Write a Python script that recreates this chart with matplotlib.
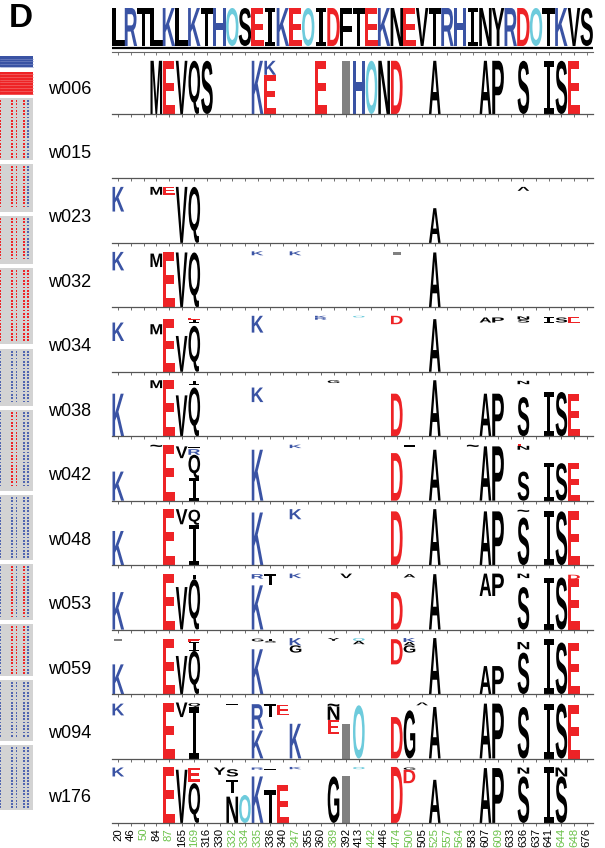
import matplotlib
matplotlib.use('Agg')
import matplotlib.pyplot as plt
from matplotlib.textpath import TextPath
from matplotlib.font_manager import FontProperties
from matplotlib.patches import PathPatch, Rectangle, Polygon
from matplotlib.transforms import Affine2D

# ---------------- data ----------------
positions = ['20', '46', '50', '84', '87', '165', '169', '316', '330', '332', '334', '335',
             '336', '340', '347', '355', '360', '389', '392', '413', '442', '446', '474',
             '500', '505', '525', '557', '564', '583', '607', '609', '633', '636', '637',
             '641', '644', '648', '676']
green_positions = ['50', '87', '169', '332', '334', '335', '347', '389', '442', '474', '500',
                   '525', '557', '564', '609', '644', '648']
reference = "LRTLKLKTHOSEIKEOIDFTEKNEVTRHINYRDOTKVS"
samples = ['w006', 'w015', 'w023', 'w032', 'w034', 'w038', 'w042', 'w048', 'w053',
           'w059', 'w094', 'w176']

# stacks: position index -> list of (letter, height) from bottom ; ' ' = empty space, '-' = gap
logo_w006 = {3: [('M', .95)], 4: [('E', .95)], 5: [('V', .95)], 6: [('Q', .95)], 7: [('S', .95)],
             11: [('K', .95)], 12: [('E', .7), ('K', .25)], 16: [('E', .95)], 18: [('-', .95)],
             19: [('H', .95)], 20: [('O', .95)], 21: [('N', .95)], 22: [('D', .95)],
             25: [('A', .95)], 29: [('A', .95)], 30: [('P', .95)], 32: [('S', .95)],
             34: [('I', .95)], 35: [('S', .95)], 36: [('E', .95)]}
logo_w015 = {}
logo_w023 = {0: [(' ', .56), ('K', .44)], 3: [(' ', .86), ('M', .14)], 4: [(' ', .86), ('E', .14)],
             5: [('V', 1.0)], 6: [('Q', 1.0)], 25: [('A', .62)], 32: [(' ', .93), ('^', .07)]}
logo_w032 = {0: [(' ', .66), ('K', .33)], 3: [(' ', .72), ('M', .24)], 4: [('E', .98)],
             5: [('V', .98)], 6: [('Q', .98)], 11: [(' ', .93), ('K', .07)],
             14: [(' ', .93), ('K', .07)], 22: [(' ', .93), ('-', .05)], 25: [('A', .98)]}
logo_w034 = {0: [(' ', .55), ('K', .33)], 3: [(' ', .67), ('M', .18)], 4: [('E', .94)],
             5: [('V', .64)], 6: [('Q', .82), (' ', .06), ('I', .05), ('E', .03)],
             11: [(' ', .7), ('K', .3)], 16: [(' ', .93), ('R', .04), ('K', .03)],
             19: [(' ', .97), ('O', .03)], 22: [(' ', .85), ('D', .15)],
             25: [('A', .94)], 29: [(' ', .88), ('A', .09)], 30: [(' ', .88), ('P', .09)],
             32: [(' ', .88), ('S', .06), ('N', .05)], 34: [(' ', .88), ('I', .09)],
             35: [(' ', .88), ('S', .09)], 36: [(' ', .88), ('E', .09)]}
logo_w038 = {0: [('K', .76)], 3: [(' ', .86), ('M', .14)], 4: [('E', 1.0)], 5: [('V', .73)],
             6: [('Q', .87), (' ', .05), ('I', .07)], 11: [(' ', .61), ('K', .26)],
             17: [(' ', .95), ('G', .05)], 22: [('D', .76)], 25: [('A', 1.0)],
             29: [('A', .76)], 30: [('P', .76)], 32: [('S', .7), (' ', .23), ('N', .06)],
             34: [('I', .79)], 35: [('S', .79)], 36: [('E', .76)]}
logo_w042 = {0: [('K', .52)], 3: [(' ', .96), ('~', .04)], 4: [('E', 1.0)],
             5: [(' ', .76), ('V', .21)], 6: [('I', .4), ('Q', .42), ('R', .1), ('=', .04)],
             11: [('K', .91)], 14: [(' ', .94), ('K', .06)], 22: [('D', .85)],
             23: [(' ', .96), ('_', .03)], 25: [('A', .91)], 28: [(' ', .96), ('~', .04)],
             29: [('A', .97)], 30: [('P', .97)], 32: [('S', .52), (' ', .39), ('N', .07), ('E', .03)],
             34: [('I', .67)], 35: [('S', .67)], 36: [('E', .67)]}
logo_w048 = {0: [('K', .61)], 4: [('E', 1.0)], 5: [(' ', .73), ('V', .27)],
             6: [('I', .72), ('Q', .27)], 11: [('K', .94)], 14: [(' ', .82), ('K', .18)],
             22: [('D', .96)], 25: [('A', 1.0)], 29: [('A', .96)], 30: [('P', .96)],
             32: [('S', .85), (' ', .1), ('~', .04)], 34: [('I', .96)], 35: [('S', .96)],
             36: [('E', .96)]}
logo_w053 = {0: [('K', .67)], 4: [('E', .99)], 5: [('V', .76)], 6: [('Q', .9), ('I', .08)],
             11: [('K', .79), (' ', .12), ('R', .08)], 12: [(' ', .8), ('T', .19)],
             14: [(' ', .92), ('K', .08)], 18: [(' ', .92), ('V', .08)], 22: [('D', .67)],
             23: [(' ', .93), ('A', .06)], 25: [('A', .99)], 29: [(' ', .6), ('A', .4)],
             30: [(' ', .6), ('P', .4)], 32: [('S', .76), (' ', .16), ('N', .08)],
             34: [('I', .93)], 35: [('S', .93)], 36: [('E', .9), ('D', .08)]}
logo_w059 = {0: [('K', .53), (' ', .42), ('-', .04)], 4: [('E', .98)], 5: [('V', .68)],
             6: [('Q', .77), ('I', .16), ('E', .05)], 11: [('K', .8), (' ', .14), ('G', .05)],
             12: [(' ', .92), ('S', .03), ('T', .04)], 14: [(' ', .74), ('G', .13), ('K', .13)],
             17: [(' ', .95), ('Y', .05)], 19: [(' ', .89), ('A', .06), ('O', .05)],
             22: [(' ', .53), ('D', .45)], 23: [(' ', .74), ('G', .13), ('A', .06), ('K', .07)],
             25: [('A', 1.0)], 29: [('A', .5)], 30: [('P', .5)],
             32: [('S', .74), (' ', .06), ('N', .13)], 34: [('I', .98)], 35: [('S', .92)],
             36: [('E', .92)]}
logo_w094 = {0: [(' ', .77), ('K', .21)], 4: [('E', 1.0)], 5: [(' ', .74), ('V', .26)],
             6: [('I', .92), ('Q', .07)], 9: [(' ', .96), ('=', .04)],
             11: [('K', .5), (' ', .03), ('R', .44)], 12: [(' ', .74), ('T', .24)],
             13: [(' ', .77), ('E', .19)], 14: [('K', .62)],
             17: [(' ', .44), ('E', .25), ('N', .24), ('~', .05)], 18: [('-', .62)],
             19: [('O', .95)], 22: [('D', .74)], 23: [('G', .86)], 24: [(' ', .95), ('^', .05)],
             25: [('A', .92)], 29: [('A', .98)], 30: [('P', .98)], 32: [('S', .92)],
             34: [('I', .98)], 35: [('S', .98)], 36: [('E', .95)]}
logo_w176 = {0: [(' ', .83), ('K', .16)], 4: [('E', 1.0)], 5: [('V', .95)],
             6: [('Q', .71), (' ', .03), ('E', .25)], 8: [(' ', .86), ('Y', .13)],
             9: [('N', .47), (' ', .06), ('T', .24), (' ', .06), ('S', .13)], 10: [('O', .5)],
             11: [('K', .83), (' ', .12), ('R', .04)], 12: [('T', .59), (' ', .36), ('=', .04)],
             13: [('E', .68)], 14: [(' ', .96), ('K', .04)], 17: [('G', .83)], 18: [('-', .83)],
             19: [(' ', .96), ('O', .04)], 22: [('D', 1.0)], 23: [(' ', .71), ('D', .24), ('G', .04)],
             25: [('A', .77)], 29: [('A', .98)], 30: [('P', .98)],
             32: [('S', .83), (' ', .05), ('N', .11)], 34: [('I', 1.0)], 35: [('S', .83), ('N', .16)]}
logos = [logo_w006, logo_w015, logo_w023, logo_w032, logo_w034, logo_w038, logo_w042,
         logo_w048, logo_w053, logo_w059, logo_w094, logo_w176]

# left strip (cropped alignment overview): grey blocks (top, bottom in px) and dot colours
strip_blocks = [(98, 160), (164, 212), (216, 264), (268, 344), (349, 406), (410, 491),
                (495, 560), (564, 620), (624, 676), (680, 741), (745, 810)]
strip_colors = ['rrrrb', 'rrrrb', 'rrrrb', 'rrrrr', 'bbbbb', 'brrbb', 'bbbbb', 'brbrb',
                'brrrb', 'bbbbb', 'bbbbb']

# ---------------- style ----------------
W, H = 605, 848
BLUE, RED, CYAN, GREY = '#3a53a4', '#ee2326', '#6dcbdc', '#808080'
GREEN = '#6cc24a'
letter_color = {'K': BLUE, 'R': BLUE, 'H': BLUE, 'D': RED, 'E': RED, 'O': CYAN}
fp_main = FontProperties(family='Liberation Sans', weight='bold')

fig = plt.figure(figsize=(W / 100, H / 100), dpi=100)


def px_axes(x0, y0, x1, y1):
    return fig.add_axes([x0 / W, 1 - y1 / H, (x1 - x0) / W, (y1 - y0) / H])


def draw_letter(ax, ch, xc, y0, w, h):
    if ch == ' ' or h <= 0:
        return
    color = letter_color.get(ch, 'black')
    if ch == '-':
        ax.add_patch(Rectangle((xc - w * 0.35, y0), w * 0.7, h, fc=GREY, ec='none'))
        return
    if ch == 'I':
        bw, sw, bt = 0.42 * w, 0.14 * w, 0.11 * h
        pts = [(xc - bw, y0), (xc + bw, y0), (xc + bw, y0 + bt), (xc + sw, y0 + bt),
               (xc + sw, y0 + h - bt), (xc + bw, y0 + h - bt), (xc + bw, y0 + h),
               (xc - bw, y0 + h), (xc - bw, y0 + h - bt), (xc - sw, y0 + h - bt),
               (xc - sw, y0 + bt), (xc - bw, y0 + bt)]
        ax.add_patch(Polygon(pts, closed=True, fc=color, ec='none'))
        return
    tp = TextPath((0, 0), ch, size=1, prop=fp_main)
    bb = tp.get_extents()
    tr = (Affine2D().translate(-bb.x0, -bb.y0)
          .scale(w / bb.width, h / bb.height).translate(xc - w / 2, y0))
    ax.add_patch(PathPatch(tr.transform_path(tp), fc=color, ec='none', lw=0))


X0, X1 = 112, 593
n = len(positions)
UNIT = 56.0  # px for height 1.0

# top reference sequence
axr = px_axes(X0, 6, X1, 52)
axr.set_xlim(-0.5, n - 0.5)
axr.set_ylim(0, 46)
for i, ch in enumerate(reference):
    draw_letter(axr, ch, i, 6, 0.98, 38)
axr.axhline(4.5, color='black', lw=1.6)
for s in ['top', 'right', 'left']:
    axr.spines[s].set_visible(False)
axr.spines['bottom'].set_color('#666666')
axr.spines['bottom'].set_linewidth(0.8)
axr.set_xticks(range(n))
axr.tick_params(axis='x', length=2, width=0.6, color='#666666', labelbottom=False)
axr.set_yticks([])
axr.patch.set_alpha(0)

baselines = [114 + 64.45 * k for k in range(len(samples))]
for k, (name, logo) in enumerate(zip(samples, logos)):
    yb = baselines[k]
    ax = px_axes(X0, yb - 64.4, X1, yb)
    ax.set_xlim(-0.5, n - 0.5)
    ax.set_ylim(0, 64.4 / UNIT)
    for pos, stack in logo.items():
        y = 0.0
        for ch, h in stack:
            draw_letter(ax, ch, pos, y, 0.92, h)
            y += h
    for s in ['top', 'right', 'left']:
        ax.spines[s].set_visible(False)
    ax.spines['bottom'].set_color('#555555')
    ax.spines['bottom'].set_linewidth(0.9)
    ax.set_xticks(range(n))
    ax.set_yticks([])
    ax.patch.set_alpha(0)
    last = (k == len(samples) - 1)
    ax.tick_params(axis='x', length=2.5, width=0.6, color='#555555', labelbottom=last,
                   pad=1.0)
    if last:
        ax.set_xticklabels(positions, rotation=90, fontsize=8.2, family='Liberation Sans',
                           va='top')
        for lab in ax.get_xticklabels():
            lab.set_color(GREEN if lab.get_text() in green_positions else 'black')
    fig.text(48 / W, 1 - (yb - 25) / H, name, fontsize=13, family='Liberation Sans',
             va='center', ha='left')

# left strip
axs = px_axes(0, 0, 40, H)
axs.set_xlim(0, 40)
axs.set_ylim(H, 0)
axs.axis('off')
axs.add_patch(Rectangle((0, 56), 33, 11, fc=BLUE, ec='none'))
axs.add_patch(Rectangle((0, 72), 33, 23, fc=RED, ec='none'))
for r in range(4):
    axs.axhline(58.5 + r * 2.7, xmin=0, xmax=33 / 40, color='#7f8fc8', lw=0.4)
for r in range(8):
    axs.axhline(74 + r * 2.8, xmin=0, xmax=33 / 40, color='#f47a7a', lw=0.4)
dot_x = [0.5, 12, 16.5, 24, 28]
for (t, b), cols in zip(strip_blocks, strip_colors):
    axs.add_patch(Rectangle((0, t), 33, b - t, fc='#d3d3d3', ec='none'))
    nrow = int((b - t - 2) / 3.3)
    for r in range(nrow):
        yy = t + 2 + r * 3.3
        for cx, c in zip(dot_x, cols):
            axs.add_patch(Rectangle((cx - 0.9, yy), 1.8, 1.8,
                                    fc=RED if c == 'r' else '#5065b0', ec='none'))

# panel letter
fig.text(9 / W, 1 - 27 / H, 'D', fontsize=24, weight='bold', family='Liberation Sans',
         va='baseline', ha='left')

fig.savefig('out.png', dpi=100)
